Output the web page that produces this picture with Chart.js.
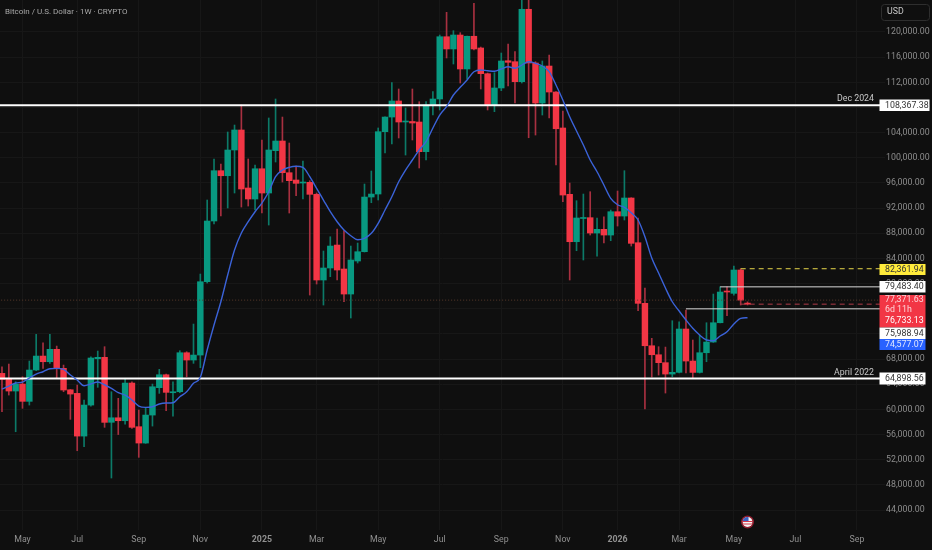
<!DOCTYPE html>
<html>
<head>
<meta charset="utf-8">
<title>Bitcoin / U.S. Dollar</title>
<style>
  html, body { margin: 0; padding: 0; background: #0f0f0f; }
  canvas { display: block; }
</style>
<script src="https://cdn.jsdelivr.net/npm/chart.js@4"></script>
</head>
<body>
<canvas id="btc-chart" width="932" height="550"></canvas>
<script>
// weekly candles, one value per week, oldest first
const opens = [
  65730,64940,62920,64030,61280,66260,68480,67580,69550,66530,
  63120,62550,55760,60690,68050,68280,57950,58670,58200,64190,
  57250,54650,59100,63450,65510,62650,62810,69010,67850,68640,
  80300,89950,97950,97150,101240,104420,95200,93450,98260,94400,
  101130,102670,97630,96470,95990,96100,94200,80570,82480,86130,
  82320,78340,83590,85070,93760,94240,104150,106480,109030,105690,
  105770,105690,100970,108390,109350,119250,117300,119520,114120,119320,
  117460,113370,108340,111100,115430,115280,112100,123610,115070,108710,
  114590,110460,104740,94190,86660,90350,90480,88040,88630,87720,
  91430,90740,93610,86500,76860,70120,68690,67430,65620,65890,
  72780,67690,65880,69010,70710,73780,78820,78450,82160,76900
];
const highs = [
  66780,67210,64400,65190,67690,71930,70600,71930,70070,67050,
  63160,63870,61490,68370,69280,69970,62810,61760,64830,64400,
  59900,60330,64030,66370,65620,64400,69330,69170,73570,81520,
  93290,99810,99010,104100,105210,108390,99810,98850,102830,106330,
  109350,106480,102350,98690,99490,96360,94400,85180,87450,88680,
  88410,85970,86450,95830,97900,104740,106530,111940,110940,107920,
  110940,108920,108920,110510,119520,123130,120210,119890,119360,124560,
  117610,113480,113530,116660,118090,116870,125400,125100,115280,115390,
  116340,110510,107440,95990,93180,94240,94610,90430,90630,91700,
  94720,97950,93650,90430,79300,71300,69970,69910,74100,73940,
  75800,71030,71820,73780,78340,79500,79500,82790,82360,77100
];
const lows = [
  59630,62280,56450,60170,60690,66150,66530,67320,64940,62810,
  58420,53430,54060,60530,63510,57150,49090,56000,57670,56990,
  52380,54600,57350,62550,59790,58940,62650,65190,67320,66630,
  80090,89470,90740,92020,94400,92170,92330,91700,91220,89310,
  99330,96150,91220,93970,93450,78180,79930,76590,81100,80570,
  77120,74530,83270,85020,92860,93290,100760,102190,103150,100440,
  102830,98380,99650,106800,107600,115870,114910,111890,112530,117140,
  110940,107600,107330,110670,111410,108710,111890,103190,103620,106800,
  106330,98850,93020,80570,85230,83750,87720,84380,86450,86820,
  89150,90110,85970,75690,60060,65140,65460,62600,65190,65780,
  65780,64990,65780,67580,70650,73730,74890,78180,76590,76600
];
const closes = [
  64780,62920,64030,61280,66260,68480,67580,69550,66530,63080,
  62440,55760,60690,68170,68280,57940,58670,58200,64190,57150,
  54650,59100,63600,65510,62710,62810,69010,67850,68640,80300,
  89950,97950,97150,101240,104420,95040,93450,98260,94400,101240,
  102670,97630,96360,95940,96100,94190,80570,82480,85970,82160,
  78340,83750,85070,93760,94240,104150,106480,109030,105690,105770,
  105530,100970,108390,109350,119250,117300,119520,114120,119320,117300,
  113370,108340,111100,115390,115180,112100,123610,115070,108710,114590,
  110460,104620,94080,86660,90430,90480,88040,88630,87720,91430,
  90740,93610,86400,76860,70120,68690,67430,65620,65890,72780,
  67690,65880,69010,70710,73780,78660,78660,82160,77370,76730
];
// smoothed moving average
const movingAvg = [
  63236,63713,64190,64349,64985,65621,65987,66464,66527,66368,
  65462,64667,63761,64031,64349,63920,63348,62648,62282,61487,
  60533,60326,60422,60851,61010,61058,62012,62807,64142,65096,
  69437,73412,77117,81362,85337,88040,89837,91427,92810,94607,
  96992,98057,98486,98645,98486,96992,95148,93287,91427,89837,
  88517,87611,86975,87198,87992,89582,91697,93812,96197,98057,
  99647,101237,102557,104735,106802,108122,109982,111207,112367,113687,
  113957,113846,113750,114116,114482,114228,114752,115277,115022,114593,
  113687,111572,109187,106532,104258,102032,99647,97786,95672,93557,
  92540,92126,91268,90107,87452,84065,81680,79295,77117,75638,
  74207,72887,71820,71027,70916,71663,72347,73571,74477,74577
];
const priceTicks = [120000,116000,112000,108000,104000,100000,96000,92000,88000,84000,80000,76000,72000,68000,64000,60000,56000,52000,48000,44000];
const timeTickWeeks = [3,11,20,29,38,46,55,64,73,82,90,99,107,116,125];
const timeTickLabels = ['May','Jul','Sep','Nov','2025','Mar','May','Jul','Sep','Nov','2026','Mar','May','Jul','Sep'];

const dec2024 = 108367.38;
const april2022 = 64898.56;
const prevHigh = 82361.94;
const levelA = 79483.40;
const levelB = 75988.94;
const openLevel = 77371.63;
const lastPrice = 76733.13;
const avgLast = 74577.07;

const UP = '#089981';
const DOWN = '#f23645';
const weeks = opens.map((o, i) => i);

const isUp = (i) => closes[i] >= opens[i];
const money = (v) => v.toLocaleString('en-US', { minimumFractionDigits: 2 });

// straight price level between two weeks
const level = (price, from, to, color, width, dash) => ({
  type: 'line',
  order: 1,
  data: [{ x: from, y: price }, { x: to, y: price }],
  borderColor: color,
  borderWidth: width,
  borderDash: dash || [],
  pointRadius: 0,
  tension: 0,
});

// price tags and the rest of the pane furniture
const overlay = {
  id: 'overlay',
  afterDraw(chart) {
    const ctx = chart.ctx;
    ctx.save();
    ctx.textBaseline = 'middle';

    ctx.font = '8px Roboto';
    ctx.fillStyle = '#a8a8a8';
    ctx.textAlign = 'left';
    ctx.fillText('Bitcoin / U.S. Dollar · 1W · CRYPTO', 5, 11.5);

    ctx.font = '8.8px Roboto';
    ctx.strokeStyle = '#2e2e2e';
    ctx.beginPath();
    ctx.roundRect(881.5, 4.5, 48, 16, 3);
    ctx.stroke();
    ctx.fillStyle = '#c8c8c8';
    ctx.fillText('USD', 887, 12);

    const tags = [
      [99.5, 11.5, 929.5, '#ffffff', '#333333', money(dec2024)],
      [264, 11, 925.5, '#ffeb3b', '#333333', money(prevHigh)],
      [281, 11.5, 925.5, '#ffffff', '#333333', money(levelA)],
      [295, 32.5, 925.5, '#f23645', '#ffd5d9', ''],
      [327.5, 11.5, 925.5, '#ffffff', '#333333', money(levelB)],
      [339, 11, 925.5, '#2962ff', '#dfe7ff', money(avgLast)],
      [372.5, 12, 925.5, '#ffffff', '#333333', money(april2022)],
    ];
    tags.forEach(([top, h, right, fill, ink, text]) => {
      ctx.fillStyle = fill;
      ctx.fillRect(879.5, top, right - 879.5, h);
      ctx.fillStyle = ink;
      ctx.fillText(text, 885, top + h / 2 + 0.3);
    });
    ctx.fillStyle = '#ffd5d9';
    ctx.fillText(money(openLevel), 885, 300);
    ctx.fillText('6d 11h', 885, 309.5);
    ctx.fillStyle = '#ffffff';
    ctx.fillText(money(lastPrice), 885, 321);

    ctx.fillStyle = '#c8c8c8';
    ctx.textAlign = 'right';
    ctx.fillText('Dec 2024', 874, 98.5);
    ctx.fillText('April 2022', 874, 372.5);

    // US calendar event marker below the last candle
    const fx = chart.scales.x.getPixelForValue(109);
    const fy = 522;
    ctx.beginPath();
    ctx.arc(fx, fy, 6.5, 0, Math.PI * 2);
    ctx.fillStyle = '#8f1d2e';
    ctx.fill();
    ctx.save();
    ctx.beginPath();
    ctx.arc(fx, fy, 5, 0, Math.PI * 2);
    ctx.clip();
    ctx.fillStyle = '#f4f4f4';
    ctx.fillRect(fx - 5, fy - 5, 10, 10);
    ctx.fillStyle = '#d8394a';
    ctx.fillRect(fx - 5, fy - 1, 10, 1);
    ctx.fillRect(fx - 5, fy + 1.5, 10, 1);
    ctx.fillStyle = '#3a62c4';
    ctx.fillRect(fx - 5, fy - 5, 6, 4);
    ctx.restore();
    ctx.restore();
  },
};

const noPadding = (axis) => {
  axis.paddingLeft = 0;
  axis.paddingRight = 0;
  axis.paddingTop = 0;
  axis.paddingBottom = 0;
};

new Chart(document.getElementById('btc-chart'), {
  data: {
    datasets: [
      {
        type: 'line',
        order: 0,
        data: weeks.map((w) => ({ x: w, y: movingAvg[w] })),
        borderColor: '#3b63d9',
        borderWidth: 1.4,
        pointRadius: 0,
        cubicInterpolationMode: 'monotone',
      },
      level(dec2024, -1, 131, '#ffffff', 2),
      level(april2022, -1, 131, '#ffffff', 2),
      level(levelA, 105, 131, '#d8d8d8', 1),
      level(levelB, 100, 131, '#d8d8d8', 1),
      level(prevHigh, 108, 131, '#e8d84a', 1, [5, 4]),
      level(lastPrice, 108, 131, '#b03a48', 1, [5, 4]),
      level(openLevel, -1, 131, '#5a3a2c', 1, [1, 2]),
      {
        type: 'bar',
        order: 3,
        grouped: false,
        barThickness: 1,
        data: weeks.map((w) => ({ x: w, y: [lows[w], highs[w]] })),
        backgroundColor: (c) => (isUp(c.dataIndex) ? '#0c7a68' : '#a83040'),
      },
      {
        type: 'bar',
        order: 2,
        grouped: false,
        barThickness: 5.8,
        minBarLength: 1,
        data: weeks.map((w) => ({ x: w, y: [opens[w], closes[w]] })),
        backgroundColor: (c) => (isUp(c.dataIndex) ? UP : DOWN),
      },
    ],
  },
  options: {
    responsive: false,
    animation: false,
    layout: { padding: 0, autoPadding: false },
    plugins: { legend: { display: false }, tooltip: { enabled: false } },
    scales: {
      x: {
        type: 'linear',
        offset: false,
        min: -0.29,
        max: 129.1,
        grid: { color: '#171717', drawTicks: false, offset: false },
        border: { display: false },
        afterBuildTicks: (axis) => { axis.ticks = timeTickWeeks.map((w) => ({ value: w })); },
        afterFit: (axis) => { axis.height = 20; noPadding(axis); },
        ticks: {
          autoSkip: false,
          maxRotation: 0,
          padding: 5,
          color: '#909090',
          font: (c) => ({ family: 'Roboto', size: 8.8, weight: c.tick && (c.tick.value === 38 || c.tick.value === 90) ? 'bold' : 'normal' }),
          callback: (value) => timeTickLabels[timeTickWeeks.indexOf(value)],
        },
      },
      y: {
        type: 'linear',
        position: 'right',
        min: 40827,
        max: 125087,
        grid: { color: '#171717', drawTicks: false },
        border: { display: false },
        afterBuildTicks: (axis) => { axis.ticks = priceTicks.map((p) => ({ value: p })); },
        afterFit: (axis) => { axis.width = 47; noPadding(axis); },
        ticks: {
          autoSkip: false,
          padding: 1,
          color: '#8c8c8c',
          font: { family: 'Roboto', size: 8.8 },
          callback: (value) => money(value),
        },
      },
    },
  },
  plugins: [overlay],
});
</script>
</body>
</html>
